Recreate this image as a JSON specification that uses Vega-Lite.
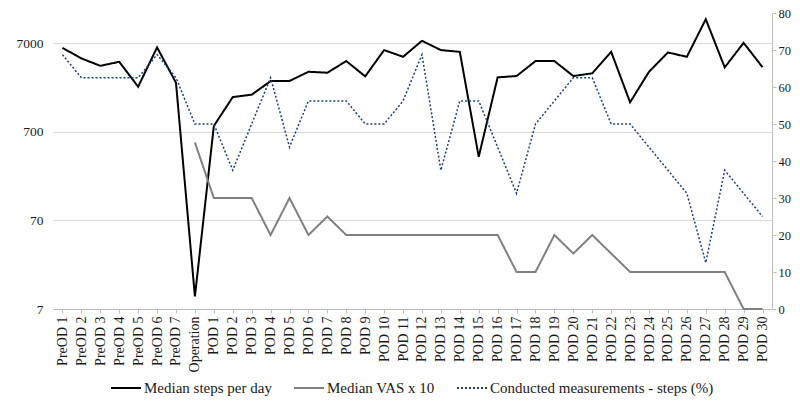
{
  "$schema": "https://vega.github.io/schema/vega-lite/v6.json",
  "autosize": {"type": "none"},
  "padding": {"left": 53, "top": 13, "right": 28, "bottom": 98},
  "width": 719,
  "height": 296,
  "background": "white",
  "config": {
    "view": {"stroke": null},
    "font": "Liberation Serif"
  },
  "data": {
    "values": [
      {"day": "PreOD 1", "steps": 6220, "vas": null, "pct": 68.75},
      {"day": "PreOD 2", "steps": 4730, "vas": null, "pct": 62.5},
      {"day": "PreOD 3", "steps": 3900, "vas": null, "pct": 62.5},
      {"day": "PreOD 4", "steps": 4330, "vas": null, "pct": 62.5},
      {"day": "PreOD 5", "steps": 2265, "vas": null, "pct": 62.5},
      {"day": "PreOD 6", "steps": 6300, "vas": null, "pct": 68.75},
      {"day": "PreOD 7", "steps": 2510, "vas": null, "pct": 62.5},
      {"day": "Operation", "steps": 9.7, "vas": 45, "pct": 50},
      {"day": "POD 1", "steps": 816, "vas": 30, "pct": 50},
      {"day": "POD 2", "steps": 1730, "vas": 30, "pct": 37.5},
      {"day": "POD 3", "steps": 1840, "vas": 30, "pct": 50},
      {"day": "POD 4", "steps": 2620, "vas": 20, "pct": 62.5},
      {"day": "POD 5", "steps": 2630, "vas": 30, "pct": 43.75},
      {"day": "POD 6", "steps": 3340, "vas": 20, "pct": 56.25},
      {"day": "POD 7", "steps": 3260, "vas": 25, "pct": 56.25},
      {"day": "POD 8", "steps": 4410, "vas": 20, "pct": 56.25},
      {"day": "POD 9", "steps": 2965, "vas": 20, "pct": 50},
      {"day": "POD 10", "steps": 5870, "vas": 20, "pct": 50},
      {"day": "POD 11", "steps": 4930, "vas": 20, "pct": 56.25},
      {"day": "POD 12", "steps": 7470, "vas": 20, "pct": 68.75},
      {"day": "POD 13", "steps": 5870, "vas": 20, "pct": 37.5},
      {"day": "POD 14", "steps": 5610, "vas": 20, "pct": 56.25},
      {"day": "POD 15", "steps": 367, "vas": 20, "pct": 56.25},
      {"day": "POD 16", "steps": 2890, "vas": 20, "pct": 43.75},
      {"day": "POD 17", "steps": 2990, "vas": 10, "pct": 31.25},
      {"day": "POD 18", "steps": 4410, "vas": 10, "pct": 50},
      {"day": "POD 19", "steps": 4410, "vas": 20, "pct": 56.25},
      {"day": "POD 20", "steps": 2990, "vas": 15, "pct": 62.5},
      {"day": "POD 21", "steps": 3210, "vas": 20, "pct": 62.5},
      {"day": "POD 22", "steps": 5610, "vas": 15, "pct": 50},
      {"day": "POD 23", "steps": 1510, "vas": 10, "pct": 50},
      {"day": "POD 24", "steps": 3340, "vas": 10, "pct": 43.75},
      {"day": "POD 25", "steps": 5520, "vas": 10, "pct": 37.5},
      {"day": "POD 26", "steps": 4930, "vas": 10, "pct": 31.25},
      {"day": "POD 27", "steps": 13100, "vas": 10, "pct": 12.5},
      {"day": "POD 28", "steps": 3745, "vas": 10, "pct": 37.5},
      {"day": "POD 29", "steps": 7090, "vas": 0, "pct": 31.25},
      {"day": "POD 30", "steps": 3760, "vas": 0, "pct": 25}
    ]
  },
  "transform": [
    {"fold": ["steps", "vas", "pct"], "as": ["key", "value"]},
    {"filter": "isValid(datum.value)"}
  ],
  "encoding": {
    "x": {
      "field": "day",
      "type": "nominal",
      "sort": null,
      "scale": {"type": "point", "padding": 0.5},
      "axis": {
        "title": null,
        "labelAngle": -90,
        "labelFont": "Liberation Serif",
        "labelColor": "#1a1a1a",
        "labelFontSize": 14,
        "labelPadding": 3,
        "domainColor": "#bfbfbf",
        "tickColor": "#bfbfbf",
        "tickSize": 4,
        "grid": false
      }
    },
    "color": {
      "field": "key",
      "type": "nominal",
      "scale": {"domain": ["steps", "vas", "pct"], "range": ["#000000", "#808080", "#1f3f77"]},
      "legend": {
        "title": null,
        "orient": "none",
        "legendX": 57,
        "legendY": 359,
        "direction": "horizontal",
        "symbolType": "stroke",
        "symbolSize": 900,
        "symbolStrokeWidth": 2,
        "labelFont": "Liberation Serif",
        "labelColor": "#1a1a1a",
        "labelFontSize": 15,
        "labelLimit": 400,
        "labelOffset": 2,
        "columnPadding": 18,
        "labelExpr": "datum.value == 'steps' ? 'Median steps per day' : datum.value == 'vas' ? 'Median VAS x 10' : 'Conducted measurements - steps (%)'"
      }
    },
    "strokeDash": {
      "field": "key",
      "type": "nominal",
      "scale": {"domain": ["steps", "vas", "pct"], "range": [[1, 0], [1, 0], [2, 2]]},
      "legend": null
    }
  },
  "layer": [
    {
      "transform": [{"filter": "datum.key == 'steps'"}],
      "mark": {"type": "line", "strokeWidth": 2},
      "encoding": {
        "y": {
          "field": "value",
          "type": "quantitative",
          "scale": {"type": "log", "domain": [7, 15400], "nice": false},
          "axis": {
            "title": null,
            "orient": "left",
            "values": [7, 70, 700, 7000],
            "format": "d",
            "grid": true,
            "gridColor": "#d9d9d9",
            "domain": false,
            "ticks": false,
            "labelPadding": 10,
            "labelFont": "Liberation Serif",
            "labelColor": "#1a1a1a",
            "labelFontSize": 13.5
          }
        }
      }
    },
    {
      "transform": [{"filter": "datum.key != 'steps'"}],
      "mark": {"type": "line"},
      "encoding": {
        "strokeWidth": {"condition": {"test": "datum.key == 'pct'", "value": 1.5}, "value": 2},
        "y": {
          "field": "value",
          "type": "quantitative",
          "scale": {"domain": [0, 80], "nice": false},
          "axis": {
            "title": null,
            "orient": "right",
            "values": [0, 10, 20, 30, 40, 50, 60, 70, 80],
            "grid": false,
            "domain": true,
            "domainColor": "#bfbfbf",
            "ticks": true,
            "tickColor": "#bfbfbf",
            "tickSize": 4,
            "labelPadding": 2,
            "labelFont": "Liberation Serif",
            "labelColor": "#1a1a1a",
            "labelFontSize": 12.5
          }
        }
      }
    }
  ],
  "resolve": {"scale": {"y": "independent"}}
}
